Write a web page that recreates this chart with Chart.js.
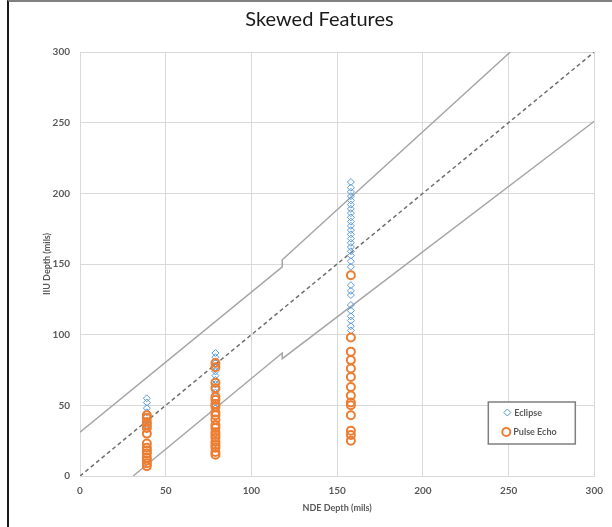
<!DOCTYPE html>
<html>
<head>
<meta charset="utf-8">
<script src="https://cdn.jsdelivr.net/npm/chart.js@4.4.1/dist/chart.umd.min.js"></script>
<style>
  html, body { margin: 0; padding: 0; background: #fff; }
  #frame {
    position: absolute; left: 0; top: 0; height: 527px;
    box-sizing: border-box;
    border-left: 2px solid #1a1a1a; border-top: 2px solid #808080;
    margin-left: 7px; width: 605px;
  }
  canvas { position: absolute; left: 0; top: 0; }
</style>
</head>
<body>
<div id="frame"></div>
<canvas id="myChart" width="612" height="527"></canvas>
<script>
// NDE depth columns (mils)
const eclipseX = [39, 79, 158];
// Eclipse IIU depths per column
const eclipseAt39 = [55, 52, 48, 45, 42, 39, 36, 33];
const eclipseAt79 = [87, 84, 80, 77, 74, 71, 68, 65, 62, 59, 55, 52, 48];
const eclipseAt158 = [208, 204, 201, 198, 195, 192, 189, 186, 183, 180, 177, 174, 171, 168, 165,
  162, 159, 156, 152, 148, 135, 131, 128, 121, 117, 113, 110, 106, 103];
// Pulse Echo IIU depths per column
const pulseAt39 = [43, 41, 38, 36, 34, 30, 23, 20, 18, 16, 13, 11, 9, 7];
const pulseAt79 = [80, 77, 66, 62, 56, 54, 51, 49, 45, 43, 40, 36, 34, 31, 29, 27, 24, 22, 20, 17, 15];
const pulseAt158 = [142, 98, 88, 82, 76, 70, 63, 57, 52, 50, 43, 32, 29, 25];

// reference lines
const unityX = [0, 300];
const unityY = [0, 300];
const upperX = [0, 118, 118, 251];
const upperY = [31, 148, 153, 300];
const lowerX = [31, 118, 118, 300];
const lowerY = [0, 87, 83, 251];

const xTicks = [0, 50, 100, 150, 200, 250, 300];

function pts(xs, ys) {
  return xs.map((x, i) => ({ x: x, y: ys[i] }));
}
function col(x, ys) {
  return ys.map(y => ({ x: x, y: y }));
}

const eclipseData = [].concat(
  col(eclipseX[0], eclipseAt39),
  col(eclipseX[1], eclipseAt79),
  col(eclipseX[2], eclipseAt158)
);
const pulseData = [].concat(
  col(eclipseX[0], pulseAt39),
  col(eclipseX[1], pulseAt79),
  col(eclipseX[2], pulseAt158)
);

const legendBox = {
  id: 'legendBox',
  afterDraw(chart) {
    const c = chart.ctx;
    const a = chart.chartArea;
    const x0 = a.right - 106, y0 = a.bottom - 74, w = 87, h = 42;
    c.save();
    c.fillStyle = '#fff';
    c.fillRect(x0, y0, w, h);
    c.strokeStyle = '#7f7f7f';
    c.lineWidth = 1.5;
    c.strokeRect(x0, y0, w, h);
    c.font = 'bold 9px Lato';
    c.fillStyle = '#595959';
    c.textBaseline = 'middle';
    // Eclipse marker
    c.strokeStyle = '#5b9bd5';
    c.lineWidth = 1;
    c.beginPath();
    c.moveTo(x0 + 19, y0 + 7); c.lineTo(x0 + 22.5, y0 + 10.5);
    c.lineTo(x0 + 19, y0 + 14); c.lineTo(x0 + 15.5, y0 + 10.5); c.closePath();
    c.stroke();
    c.fillText('Eclipse', x0 + 26, y0 + 11);
    // Pulse echo marker
    c.strokeStyle = '#ed7d31';
    c.lineWidth = 2;
    c.beginPath();
    c.arc(x0 + 18, y0 + 30, 4, 0, Math.PI * 2);
    c.stroke();
    c.fillText('Pulse Echo', x0 + 25, y0 + 30);
    c.restore();
  }
};

const ctx = document.getElementById('myChart').getContext('2d');
const refLine = (label, data, color, dash, order) => ({
  label: label,
  data: data,
  showLine: true,
  borderColor: color,
  borderWidth: 1.5,
  borderDash: dash,
  pointRadius: 0,
  fill: false,
  order: order
});

const chart = new Chart(ctx, {
  type: 'scatter',
  data: {
    datasets: [
      {
        label: 'Pulse Echo',
        data: pulseData,
        pointStyle: 'circle',
        pointRadius: 4,
        borderColor: '#ed7d31',
        backgroundColor: 'rgba(0,0,0,0)',
        borderWidth: 2,
        order: 1
      },
      {
        label: 'Eclipse',
        data: eclipseData,
        pointStyle: 'rectRot',
        pointRadius: 3.5,
        borderColor: '#5b9bd5',
        backgroundColor: 'rgba(0,0,0,0)',
        borderWidth: 1,
        order: 2
      },
      refLine('Unity', pts(unityX, unityY), '#6f6f6f', [4, 3], 3),
      refLine('Upper', pts(upperX, upperY), '#a6a6a6', [], 3),
      refLine('Lower', pts(lowerX, lowerY), '#a6a6a6', [], 3)
    ]
  },
  options: {
    responsive: false,
    animation: false,
    layout: { padding: { left: 38, right: 11, top: 6, bottom: 10 } },
    plugins: {
      legend: { display: false },
      tooltip: { enabled: false },
      title: {
        display: true,
        text: 'Skewed Features',
        color: '#1a1a1a',
        font: { family: 'Lato', size: 20, weight: 'normal' },
        padding: { top: 2, bottom: 20 }
      }
    },
    scales: {
      x: {
        type: 'linear',
        min: 0,
        max: 300,
        afterBuildTicks: s => { s.ticks = xTicks.map(v => ({ value: v })); },
        afterFit: s => { s.height = 41; },
        grid: { color: '#d9d9d9', drawTicks: false },
        border: { color: '#d9d9d9' },
        ticks: { color: '#595959', padding: 9, font: { family: 'Lato', size: 10, weight: 'bold' } },
        title: {
          display: true,
          text: 'NDE Depth (mils)',
          color: '#595959',
          padding: { top: 5 },
          font: { family: 'Lato', size: 9, weight: 'bold' }
        }
      },
      y: {
        type: 'linear',
        min: 0,
        max: 300,
        afterBuildTicks: s => { s.ticks = xTicks.map(v => ({ value: v })); },
        afterFit: s => { s.width = 42; },
        grid: { color: '#d9d9d9', drawTicks: false },
        border: { color: '#d9d9d9' },
        ticks: { color: '#595959', padding: 10, font: { family: 'Lato', size: 10, weight: 'bold' } },
        title: {
          display: true,
          text: 'IIU Depth (mils)',
          color: '#595959',
          padding: { bottom: 4 },
          font: { family: 'Lato', size: 9, weight: 'bold' }
        }
      }
    }
  },
  plugins: [legendBox]
});
</script>
</body>
</html>
